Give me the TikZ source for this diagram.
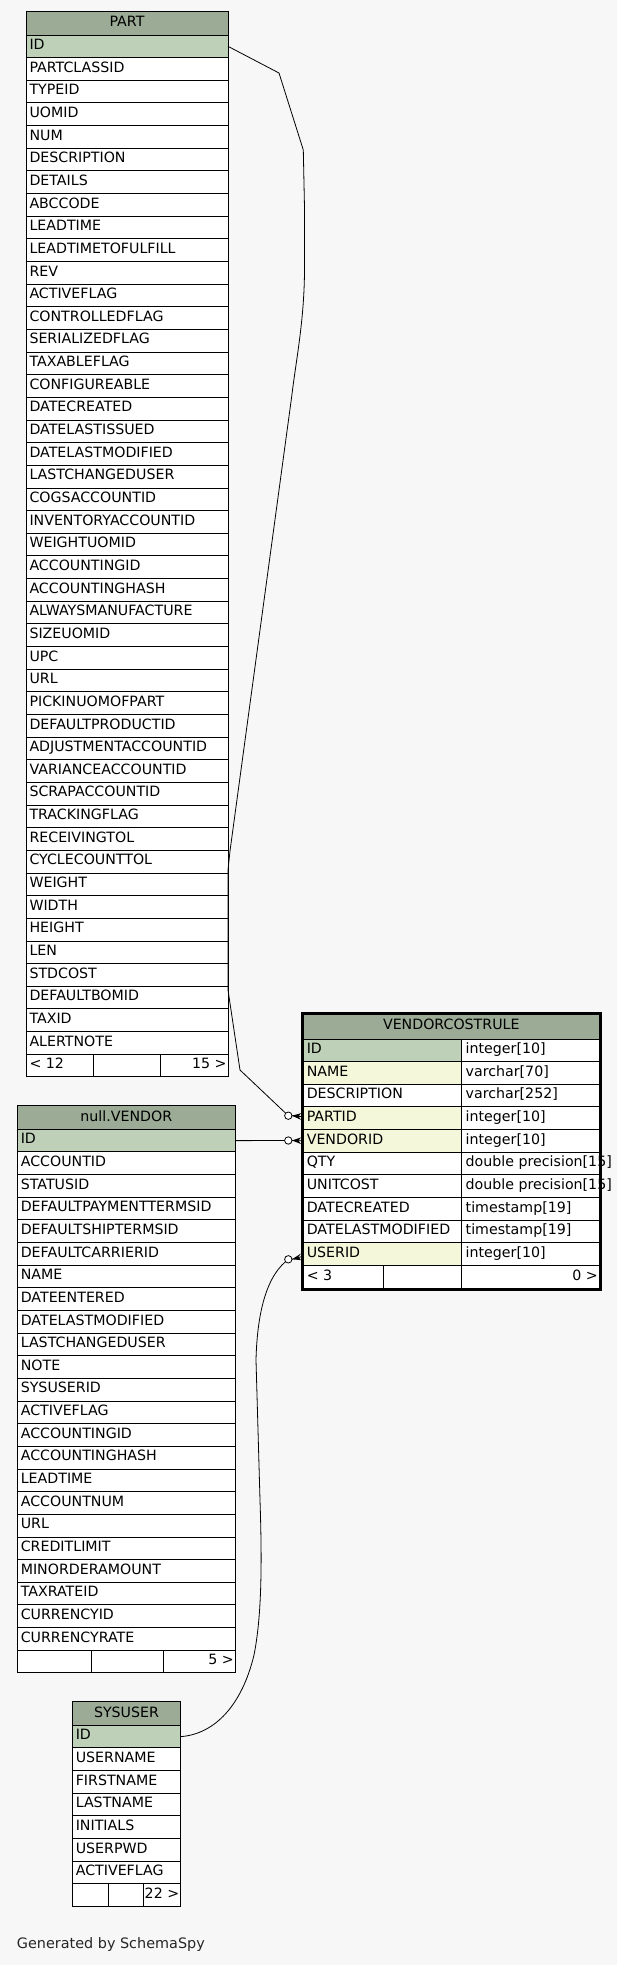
\documentclass[tikz,border=0pt]{standalone}
\usepackage{fontspec}
\setmainfont{DejaVu Sans}
\usetikzlibrary{calc}
\definecolor{bgc}{HTML}{F7F7F7}
\definecolor{hdrc}{HTML}{9BAB96}
\definecolor{keyc}{HTML}{BED1B8}
\definecolor{idxc}{HTML}{F4F7DA}
\def\rowh{22.65}
\tikzset{
  cell/.style={draw=black, line width=1pt, inner sep=0pt, outer sep=0pt, anchor=north west, minimum height=22.65pt, fill=white},
  txt/.style={font=\fontsize{14.2}{16}\selectfont, inner sep=0pt, outer sep=0pt, anchor=base west},
  hdrtxt/.style={txt, anchor=base},
  gentxt/.style={font=\fontsize{14.4}{16}\selectfont, inner sep=0pt, anchor=base west, text=black!85},
  odot/.style={circle, draw=black, line width=0.8pt, fill=white, minimum size=7.4pt, inner sep=0pt, outer sep=0pt},
  conn/.style={draw=black, line width=0.8pt},
}
% table with one column: id, xl, width, top, header height, title, rows
\newcommand\erdtab[7]{%
  \node[cell, fill=hdrc, minimum width=#3, minimum height=#5] (#1-h) at (#2,#4) {};
  \node[hdrtxt] (#1-title) at ($(#1-h.north)+(0,15.5)$) {#6};
  \foreach \lbl/\col [count=\i] in {#7} {
    \pgfmathsetmacro\yy{#4+#5+(\i-1)*\rowh}
    \node[cell, fill=\col, minimum width=#3] (#1-\i) at (#2,\yy) {};
    \node[txt] (#1-\i-t) at ($(#1-\i.north west)+(3.5,14.5)$) {\lbl};
  }%
}
% footer: id, xl, y, w1, w2, w3, left text, right text
\newcommand\erdfoot[8]{%
  \node[cell, minimum width=#4] (#1-f1) at (#2,#3) {};
  \node[cell, minimum width=#5] (#1-f2) at (#1-f1.north east) {};
  \node[cell, minimum width=#6] (#1-f3) at (#1-f2.north east) {};
  \node[txt] (#1-fl) at ($(#1-f1.north west)+(3.5,14.5)$) {#7};
  \node[txt, anchor=base east] (#1-fr) at ($(#1-f3.north east)+(-1.5,14.5)$) {#8};
}
\begin{document}
\begin{tikzpicture}[x=1pt, y=-1pt]
\fill[bgc] (0,0) rectangle (617,1965);
\useasboundingbox (0,0) rectangle (617,1965);

% PART
\erdtab{part}{26}{202}{11}{24}{PART}{ID/keyc, PARTCLASSID/white, TYPEID/white, UOMID/white, NUM/white, DESCRIPTION/white, DETAILS/white, ABCCODE/white, LEADTIME/white, LEADTIMETOFULFILL/white, REV/white, ACTIVEFLAG/white, CONTROLLEDFLAG/white, SERIALIZEDFLAG/white, TAXABLEFLAG/white, CONFIGUREABLE/white, DATECREATED/white, DATELASTISSUED/white, DATELASTMODIFIED/white, LASTCHANGEDUSER/white, COGSACCOUNTID/white, INVENTORYACCOUNTID/white, WEIGHTUOMID/white, ACCOUNTINGID/white, ACCOUNTINGHASH/white, ALWAYSMANUFACTURE/white, SIZEUOMID/white, UPC/white, URL/white, PICKINUOMOFPART/white, DEFAULTPRODUCTID/white, ADJUSTMENTACCOUNTID/white, VARIANCEACCOUNTID/white, SCRAPACCOUNTID/white, TRACKINGFLAG/white, RECEIVINGTOL/white, CYCLECOUNTTOL/white, WEIGHT/white, WIDTH/white, HEIGHT/white, LEN/white, STDCOST/white, DEFAULTBOMID/white, TAXID/white, ALERTNOTE/white}
\erdfoot{part}{26}{1054.25}{67.3}{67.4}{67.3}{< 12}{15 >}

% null.VENDOR
\erdtab{ven}{17.3}{218}{1105.7}{23.6}{null.VENDOR}{ID/keyc, ACCOUNTID/white, STATUSID/white, DEFAULTPAYMENTTERMSID/white, DEFAULTSHIPTERMSID/white, DEFAULTCARRIERID/white, NAME/white, DATEENTERED/white, DATELASTMODIFIED/white, LASTCHANGEDUSER/white, NOTE/white, SYSUSERID/white, ACTIVEFLAG/white, ACCOUNTINGID/white, ACCOUNTINGHASH/white, LEADTIME/white, ACCOUNTNUM/white, URL/white, CREDITLIMIT/white, MINORDERAMOUNT/white, TAXRATEID/white, CURRENCYID/white, CURRENCYRATE/white}
\erdfoot{ven}{17.3}{1650.25}{74}{72}{72}{}{5 >}

% SYSUSER
\erdtab{sys}{72.3}{108.4}{1701.7}{23.6}{SYSUSER}{ID/keyc, USERNAME/white, FIRSTNAME/white, LASTNAME/white, INITIALS/white, USERPWD/white, ACTIVEFLAG/white}
\erdfoot{sys}{72.3}{1883.85}{36}{35.4}{37}{}{22 >}

% VENDORCOSTRULE
\node[cell, fill=hdrc, minimum width=296, minimum height=25] (vcr-h) at (303.3,1014) {};
\node[hdrtxt] (vcr-title) at ($(vcr-h.north)+(0,15.5)$) {VENDORCOSTRULE};
\foreach \lbl/\col/\typ [count=\i] in {ID/keyc/integer[10], NAME/idxc/varchar[70], DESCRIPTION/white/varchar[252], PARTID/idxc/integer[10], VENDORID/idxc/integer[10], QTY/white/double precision[15], UNITCOST/white/double precision[15], DATECREATED/white/timestamp[19], DATELASTMODIFIED/white/timestamp[19], USERID/idxc/integer[10]} {
  \pgfmathsetmacro\yy{1039+(\i-1)*\rowh}
  \node[cell, fill=\col, minimum width=158.4] (vcr-\i) at (303.3,\yy) {};
  \node[cell, minimum width=137.6] (vcr-\i-ty) at (vcr-\i.north east) {};
  \node[txt] (vcr-\i-t) at ($(vcr-\i.north west)+(3.5,14.5)$) {\lbl};
  \node[txt] (vcr-\i-tt) at ($(vcr-\i-ty.north west)+(4,14.5)$) {\typ};
}
\erdfoot{vcr}{303.3}{1265.5}{80.4}{78}{137.6}{< 3}{0 >}
\draw[line width=2.6pt] (301.9,1012.8) rectangle (600.8,1289.6);

% connector ends
\node[odot] (c1) at (288.3,1115.7) {};
\node[odot] (c2) at (288.3,1140.5) {};
\node[odot] (c3) at (288.3,1259.3) {};
\coordinate (e1) at (301,1116.5);
\coordinate (e2) at (301,1140.7);
\coordinate (e3) at (301,1256.8);
\foreach \c/\e in {c1/e1, c2/e2, c3/e3} {
  \draw[conn] (\c.east) -- (\e);
  \fill (\c.east) -- ($(\e)+(0,-3.3)$) -- ($(\e)+(-2.5,0)$) -- ($(\e)+(0,3.3)$) -- cycle;
}

% PART.ID -> PARTID
\draw[conn] (part-1.east) -- (279,73) -- (303.3,150) -- (304.5,208) -- (304.5,268)
  .. controls (304.5,320) and (296,360) .. (291.7,396.5) -- (230,851) -- (228,870) -- (228,990) -- (240,1070) -- (c1);
% VENDOR.ID -> VENDORID
\draw[conn] (ven-1.east) -- (c2);
% SYSUSER.ID -> USERID
\draw[conn] (sys-1.east) .. controls (215,1734) and (242,1705) .. (254,1655)
  .. controls (262,1615) and (262,1560) .. (260,1500) -- (256,1360)
  .. controls (257,1320) and (264,1280) .. (c3);

\node[gentxt] (gen) at (16.7,1948) {Generated by SchemaSpy};
\end{tikzpicture}
\end{document}
